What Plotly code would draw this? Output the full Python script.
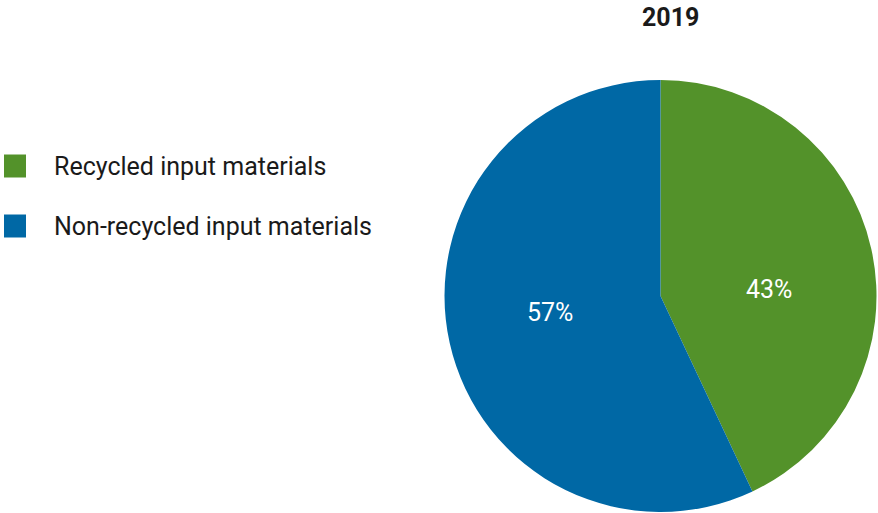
import plotly.graph_objects as go

# Share of input materials, 2019
year = "2019"
labels = ["Recycled input materials", "Non-recycled input materials"]
shares = [43, 57]
colors = ["#53922A", "#0068A5"]

W, H = 878, 513
FONT = "Roboto"

fig = go.Figure()

fig.add_trace(go.Pie(
    labels=labels,
    values=shares,
    sort=False,
    direction="clockwise",
    rotation=0,
    marker=dict(colors=colors, line=dict(width=0)),
    textinfo="none",
    hoverinfo="label+percent",
    showlegend=False,
    domain=dict(x=[444 / W, 877 / W], y=[1 / H, 433 / H]),
))

# Percentage labels inside the slices (pixel positions converted to paper)
label_pos = [(769, 289), (550, 312)]
for v, (px, py) in zip(shares, label_pos):
    fig.add_annotation(
        x=px / W, y=1 - py / H, xref="paper", yref="paper",
        text=f"{v}%", showarrow=False,
        font=dict(family=FONT, size=25, color="white"),
        xanchor="center", yanchor="middle",
    )

# Hand-placed legend: colour squares plus category names
legend_rows = [166, 226]
for lab, col, cy in zip(labels, colors, legend_rows):
    fig.add_shape(
        type="rect", xref="paper", yref="paper",
        x0=4 / W, x1=26 / W, y0=1 - (cy + 11.5) / H, y1=1 - (cy - 11.5) / H,
        fillcolor=col, line=dict(width=0),
    )
    fig.add_annotation(
        x=52 / W, y=1 - cy / H, xref="paper", yref="paper",
        text=lab, showarrow=False,
        font=dict(family=FONT, size=25, color="#1a1a1a"),
        xanchor="left", yanchor="middle",
    )

fig.add_annotation(
    x=670 / W, y=1 - 17 / H, xref="paper", yref="paper",
    text=f"<b>{year}</b>", showarrow=False,
    font=dict(family=FONT, size=25, color="#1a1a1a"),
    xanchor="center", yanchor="middle",
)

fig.update_layout(
    width=W, height=H,
    margin=dict(l=0, r=0, t=0, b=0),
    paper_bgcolor="white",
    plot_bgcolor="white",
)

fig.write_html("out.html")
